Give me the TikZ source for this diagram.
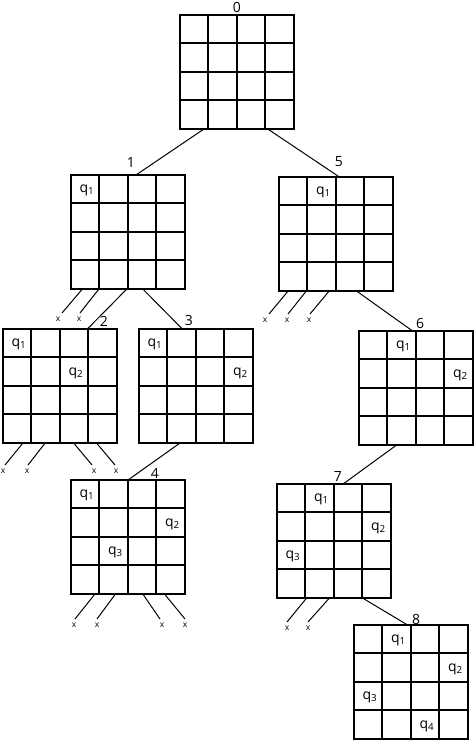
\documentclass[tikz,border=0pt]{standalone}
\usepackage{fontspec}
\setmainfont{Open Sans}
\usetikzlibrary{calc}
\tikzset{
 board/.style={draw, line width=1.9pt, minimum size=114pt, inner sep=0pt, outer sep=0pt},
 gridline/.style={line width=1.05pt},
 conn/.style={line width=1pt},
 lbl/.style={font=\fontsize{14}{14}\selectfont, inner sep=0pt},
 qn/.style={font=\fontsize{14}{14}\selectfont, inner sep=0pt},
 xlab/.style={font=\fontsize{8.5}{8.5}\selectfont, inner sep=0pt},
}
\newcommand{\mkboard}[3]{%
 \node[board] (#1) at (#2+57,#3+57) {};
 \foreach \o in {28,57,85} {
   \draw[gridline] ($(#1.north west)+(\o,0)$) -- ($(#1.south west)+(\o,0)$);
   \draw[gridline] ($(#1.north west)+(0,\o)$) -- ($(#1.north east)+(0,\o)$);
 }%
}
\newcommand{\queen}[4]{%
 \node[qn] (#1q#4) at ($(#1.north west)+(#3*28.5+16,#2*28.5+15.5)$) {q\textsubscript{#4}};%
}
\newcommand{\xline}[7]{%
 \coordinate (#1e) at (#4,#5);
 \node[xlab] (#1) at (#6,#7) {x};
 \draw[conn] ($(#2.south west)!#3!(#2.south east)$) -- (#1e);%
}
\begin{document}
\begin{tikzpicture}[x=1pt,y=-1pt]
\useasboundingbox (0,0) rectangle (474,740);
% boards
\mkboard{b0}{180}{15}
\mkboard{b1}{71}{175}
\mkboard{b5}{279}{177}
\mkboard{b2}{3}{329}
\mkboard{b3}{139}{329}
\mkboard{b6}{359}{331}
\mkboard{b4}{71}{480}
\mkboard{b7}{277}{484}
\mkboard{b8}{354}{625}
% labels
\node[lbl] (l0) at (237,7) {0};
\node[lbl] (l1) at (131,162) {1};
\node[lbl] (l5) at (339,162) {5};
\node[lbl] (l2) at (104,321) {2};
\node[lbl] (l3) at (189,320) {3};
\node[lbl] (l6) at (420,323) {6};
\node[lbl] (l4) at (155,473) {4};
\node[lbl] (l7) at (338,476) {7};
\node[lbl] (l8) at (416,619) {8};
% queens
\queen{b1}{0}{0}{1}
\queen{b5}{0}{1}{1}
\queen{b2}{0}{0}{1}\queen{b2}{1}{2}{2}
\queen{b3}{0}{0}{1}\queen{b3}{1}{3}{2}
\queen{b6}{0}{1}{1}\queen{b6}{1}{3}{2}
\queen{b4}{0}{0}{1}\queen{b4}{1}{3}{2}\queen{b4}{2}{1}{3}
\queen{b7}{0}{1}{1}\queen{b7}{1}{3}{2}\queen{b7}{2}{0}{3}
\queen{b8}{0}{1}{1}\queen{b8}{1}{3}{2}\queen{b8}{2}{0}{3}\queen{b8}{3}{2}{4}
% tree connectors
\draw[conn] ($(b0.south west)!0.21!(b0.south east)$) -- ($(b1.north west)!0.57!(b1.north east)$);
\draw[conn] ($(b0.south west)!0.77!(b0.south east)$) -- ($(b5.north west)!0.53!(b5.north east)$);
\draw[conn] ($(b1.south west)!0.49!(b1.south east)$) -- ($(b2.north west)!0.74!(b2.north east)$);
\draw[conn] ($(b1.south west)!0.63!(b1.south east)$) -- ($(b3.north west)!0.38!(b3.north east)$);
\draw[conn] ($(b3.south west)!0.36!(b3.south east)$) -- ($(b4.north west)!0.50!(b4.north east)$);
\draw[conn] ($(b5.south west)!0.68!(b5.south east)$) -- ($(b6.north west)!0.47!(b6.north east)$);
\draw[conn] ($(b6.south west)!0.33!(b6.south east)$) -- ($(b7.north west)!0.58!(b7.north east)$);
\draw[conn] ($(b7.south west)!0.75!(b7.south east)$) -- ($(b8.north west)!0.47!(b8.north east)$);
% dead ends
\xline{x1a}{b1}{0.10}{62}{313}{58}{319}
\xline{x1b}{b1}{0.245}{80}{313}{79}{319}
\xline{x2a}{b2}{0.175}{5}{465}{3}{471}
\xline{x2b}{b2}{0.37}{28}{465}{27}{471}
\xline{x2c}{b2}{0.62}{92}{465}{94}{471}
\xline{x2d}{b2}{0.82}{115}{465}{116}{471}
\xline{x5a}{b5}{0.08}{269}{314}{265}{320}
\xline{x5b}{b5}{0.24}{288}{314}{287}{320}
\xline{x5c}{b5}{0.44}{310}{314}{309}{320}
\xline{x4a}{b4}{0.21}{75}{619}{74}{625}
\xline{x4b}{b4}{0.39}{97}{619}{97}{625}
\xline{x4c}{b4}{0.63}{160}{619}{162}{625}
\xline{x4d}{b4}{0.82}{185}{619}{185}{625}
\xline{x7a}{b7}{0.26}{287}{622}{287}{628}
\xline{x7b}{b7}{0.46}{308}{622}{308}{628}
\end{tikzpicture}
\end{document}
